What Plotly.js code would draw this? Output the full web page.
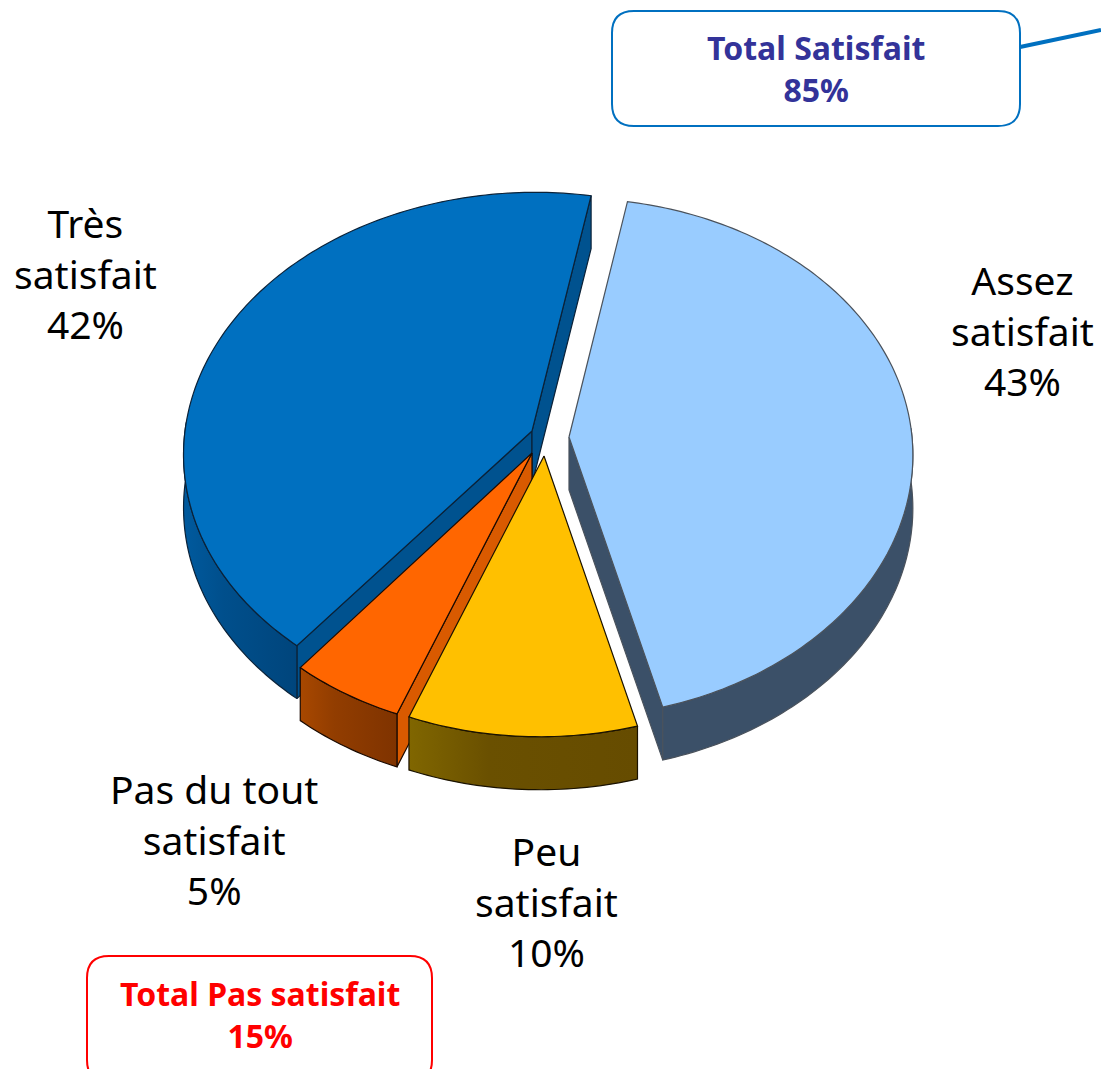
<!DOCTYPE html>
<html>
<head>
<meta charset="utf-8">
<script src="https://cdn.plot.ly/plotly-3.0.1.min.js"></script>
<style>html,body{margin:0;padding:0;background:#fff}#chart{width:1101px;height:1069px}</style>
</head>
<body>
<div id="chart"></div>
<script>
// Data
const categories = ['Assez<br>satisfait', 'Peu<br>satisfait', 'Pas du tout<br>satisfait', 'Très<br>satisfait'];
const values = [43, 10, 5, 42];
const totalLabels = ['Total Satisfait', 'Total Pas satisfait'];
const totalValues = [85, 15];

// Styling and projection of the tilted pie
const topColors = ['#99ccff', '#ffc000', '#ff6600', '#0070c0'];
const radialColors = ['#3b5068', '#8a6d00', '#d95a00', '#00528f'];
const wallLeft = ['#3b5068', '#806600', '#a84800', '#005a9e'];
const wallMid = ['#3b5068', '#6a5000', '#923d00', '#004f8c'];
const wallRight = ['#3b5068', '#664c00', '#7f3300', '#00457c'];
const edgeColors = ['#4a525c', '#1a1200', '#1a0a00', '#0b2238'];
const apexX = [569, 544, 532, 532];
const apexY = [437, 456, 453, 431];
const radiusX = [343, 342, 342, 347];
const radiusY = 258, persp = 0.081, shear = 0.014, depth = 53, startAngle = 10;
const drawOrder = [3, 2, 1, 0];
const labelX = [1022, 546, 214, 85];
const labelY = [330, 901, 839, 273];

const rad = d => d * Math.PI / 180;
function project(i, deg, drop) {
  const c = Math.cos(rad(deg)), s = Math.sin(rad(deg)), w = 1 + persp * c;
  const dy = -radiusY * c / w;
  return [apexX[i] + radiusX[i] * s / w - shear * dy, apexY[i] + dy + drop];
}
function arc(i, a, b, drop) {
  const pts = [], n = Math.max(2, Math.ceil(Math.abs(b - a)));
  for (let k = 0; k <= n; k++) pts.push(project(i, a + (b - a) * k / n, drop));
  return pts;
}
function poly(pts, fill, line, name, grad) {
  const t = {
    type: 'scatter', mode: 'lines', x: pts.map(p => p[0]).concat([pts[0][0]]),
    y: pts.map(p => p[1]).concat([pts[0][1]]), fill: 'toself', fillcolor: fill,
    line: {color: line, width: 1.2, simplify: false}, name: name, showlegend: false, hoverinfo: 'name'
  };
  if (grad) t.fillgradient = {type: 'horizontal', colorscale: [[0, grad[0]], [0.35, grad[1]], [1, grad[2]]]};
  return t;
}

// Slice angle ranges from the values
const total = values.reduce((a, b) => a + b, 0);
const ranges = [];
let running = startAngle;
values.forEach(v => { ranges.push([running, running + v / total * 360]); running += v / total * 360; });

const traces = [];
drawOrder.forEach(i => {
  const [a, b] = ranges[i];
  const name = categories[i].replace('<br>', ' ');
  const apex = [apexX[i], apexY[i]], apexLow = [apexX[i], apexY[i] + depth];
  // cut faces: only those turned toward the viewer
  [[a, a - 90], [b, b + 90]].forEach(([t, normal]) => {
    if (Math.cos(rad(normal)) >= 0) return;
    const top = project(i, t, 0), low = project(i, t, depth);
    traces.push(poly([apex, top, low, apexLow], radialColors[i], edgeColors[i], name));
  });
  // outer wall: the part of the rim that faces the viewer
  const lo = Math.max(a, 88), hi = Math.min(b, 272);
  if (hi > lo) {
    traces.push(poly(arc(i, lo, hi, 0).concat(arc(i, hi, lo, depth)), wallRight[i], edgeColors[i], name,
      [wallLeft[i], wallMid[i], wallRight[i]]));
  }
  traces.push(poly([apex].concat(arc(i, a, b, 0)), topColors[i], edgeColors[i], name));
});

function roundedBox(x0, y0, x1, y1, r) {
  return `M${x0 + r},${y0} L${x1 - r},${y0} Q${x1},${y0} ${x1},${y0 + r} L${x1},${y1 - r} Q${x1},${y1} ${x1 - r},${y1} ` +
         `L${x0 + r},${y1} Q${x0},${y1} ${x0},${y1 - r} L${x0},${y0 + r} Q${x0},${y0} ${x0 + r},${y0} Z`;
}

const labelFont = {family: '"Noto Sans", sans-serif', size: 39, color: '#000000'};
const annotations = drawOrder.map(i => ({
  x: labelX[i], y: labelY[i], xref: 'x', yref: 'y', xanchor: 'center', yanchor: 'middle',
  text: `${categories[i]}<br>${values[i]}%`, showarrow: false, font: labelFont, align: 'center'
}));
annotations.push({
  x: 816, y: 68, xref: 'x', yref: 'y', xanchor: 'center', yanchor: 'middle', showarrow: false, align: 'center',
  text: `<b>${totalLabels[0]}<br>${totalValues[0]}%</b>`,
  font: {family: '"Noto Sans", sans-serif', size: 32, color: '#333399'}
});
annotations.push({
  x: 260, y: 1014, xref: 'x', yref: 'y', xanchor: 'center', yanchor: 'middle', showarrow: false, align: 'center',
  text: `<b>${totalLabels[1]}<br>${totalValues[1]}%</b>`,
  font: {family: '"Noto Sans", sans-serif', size: 32, color: '#ff0000'}
});

const layout = {
  width: 1101, height: 1069, margin: {l: 0, r: 0, t: 0, b: 0},
  paper_bgcolor: '#ffffff', plot_bgcolor: '#ffffff', showlegend: false,
  xaxis: {range: [0, 1101], visible: false, fixedrange: true},
  yaxis: {range: [1069, 0], visible: false, fixedrange: true},
  annotations: annotations,
  shapes: [
    {type: 'path', xref: 'x', yref: 'y', path: roundedBox(612, 11, 1020, 126, 22), line: {color: '#0070c0', width: 2}, fillcolor: '#ffffff'},
    {type: 'path', xref: 'x', yref: 'y', path: roundedBox(87, 956, 432, 1082, 22), line: {color: '#ff0000', width: 2}, fillcolor: '#ffffff'},
    {type: 'line', xref: 'x', yref: 'y', x0: 1020, y0: 47, x1: 1101, y1: 30, line: {color: '#0070c0', width: 4}}
  ]
};
Plotly.newPlot('chart', traces, layout, {displayModeBar: false, staticPlot: true});
</script>
</body>
</html>
